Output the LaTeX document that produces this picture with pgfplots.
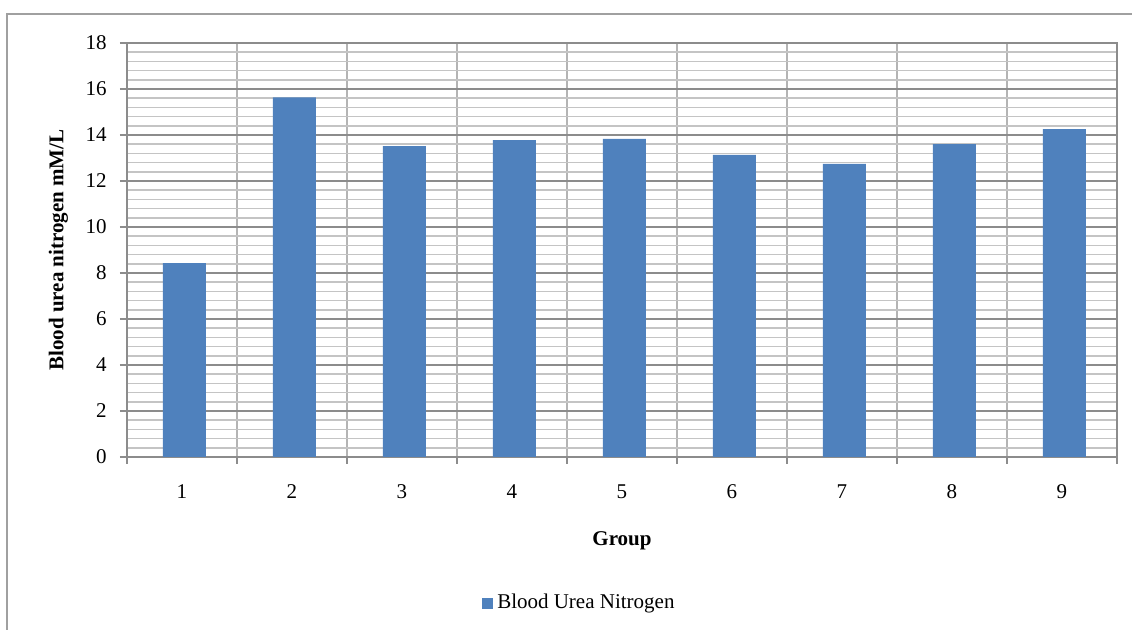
\documentclass[border=0pt]{standalone}
\usepackage{fontspec}
\setmainfont{Liberation Serif}
\usepackage{pgfplots}
\pgfplotsset{compat=1.18}
\definecolor{barblue}{HTML}{4F81BD}
\definecolor{majgrid}{HTML}{8C8C8C}
\definecolor{mingrid}{HTML}{C4C4C4}
\definecolor{vgrid}{HTML}{B4B4B4}
\definecolor{frame}{HTML}{A0A0A0}
\newcommand{\chartfont}{\fontsize{10.5}{12.5}\selectfont}
\begin{document}
\begin{tikzpicture}
\chartfont
\draw[frame, line width=1pt] (3.5pt,-10pt) rectangle (580pt,308pt);
\begin{axis}[
  at={(63.5pt,86.5pt)}, anchor=south west,
  scale only axis, width=495pt, height=207pt,
  xmin=0.5, xmax=9.5, ymin=0, ymax=18,
  ytick={0,2,...,18},
  minor y tick num=4,
  xtick={0.5,1.5,...,9.5},
  xticklabels={},
  extra x ticks={1,2,3,4,5,6,7,8,9},
  extra x tick labels={1,2,3,4,5,6,7,8,9},
  extra x tick style={major tick length=0pt, xmajorgrids=false, xticklabel style={yshift=-10pt}},
  xmajorgrids, ymajorgrids, yminorgrids,
  major grid style={majgrid, line width=0.75pt},
  minor grid style={mingrid, line width=0.75pt},
  x grid style={vgrid, line width=0.75pt},
  axis line style={majgrid, line width=0.75pt},
  tick style={majgrid, line width=0.75pt},
  major tick length=3.5pt,
  minor tick length=0pt,
  tick pos=left,
  tick align=outside,
  /pgf/number format/assume math mode=true,
  ticklabel style={font=\chartfont},
  yticklabel style={xshift=-3pt},
  ylabel={\textbf{Blood urea nitrogen mM/L}},
  ylabel style={font=\chartfont, at={(-0.052,0.5)}},
  xlabel={\textbf{Group}},
  xlabel style={font=\chartfont, at={(0.5,-0.162)}},
  legend style={at={(0.458,-0.3527)}, anchor=center, draw=none, fill=none,
    font=\chartfont, legend columns=1, inner sep=0pt},
  legend cell align=left,
  legend image code/.code={\fill[barblue] (0pt,-2.75pt) rectangle (5.5pt,2.75pt);},
  clip=false
]
\addplot[ybar, bar width=21.5pt, bar shift=1.2pt, fill=barblue, draw=none] coordinates {
  (1,8.43) (2,15.63) (3,13.52) (4,13.78) (5,13.83) (6,13.13) (7,12.74) (8,13.6) (9,14.26)
};
\addlegendentry{Blood Urea Nitrogen}
\end{axis}
\pgfresetboundingbox
\path[use as bounding box] (0,0) rectangle (566pt,315pt);
\end{tikzpicture}
\end{document}
